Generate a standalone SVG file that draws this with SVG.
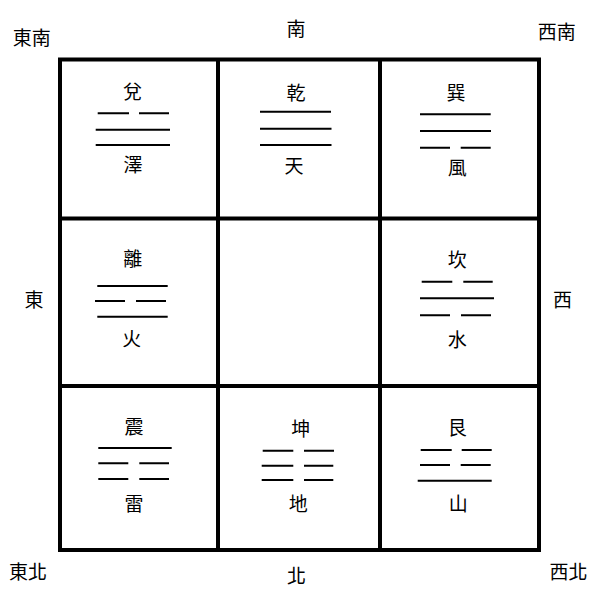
<svg xmlns="http://www.w3.org/2000/svg" width="607" height="599" viewBox="0 0 607 599">
<style>
text{font-family:"Noto Sans CJK TC","Noto Sans CJK JP",sans-serif;font-size:19px;fill:#000;text-anchor:middle;dominant-baseline:central}
.grid{fill:none;stroke:#000;stroke-width:4}
.yao{stroke:#000;stroke-width:2;fill:none}
</style>
<rect width="607" height="599" fill="#fff"/>
<g id="grid">
<rect class="grid" x="60" y="59.5" width="479" height="490.5"/>
<line class="grid" x1="218" y1="59.5" x2="218" y2="550"/>
<line class="grid" x1="380" y1="59.5" x2="380" y2="550"/>
<line class="grid" x1="60" y1="218.5" x2="539" y2="218.5"/>
<line class="grid" x1="60" y1="386" x2="539" y2="386"/>
</g>
<g id="directions">
<text x="31.7" y="36">東南</text>
<text x="296" y="27">南</text>
<text x="556.8" y="30.3">西南</text>
<text x="34" y="298">東</text>
<text x="562.6" y="298.5">西</text>
<text x="28" y="570">東北</text>
<text x="296.5" y="574.5">北</text>
<text x="568.4" y="570">西北</text>
</g>
<g id="dui">
<text x="132.5" y="90.2">兌</text>
<path class="yao" d="M97.7 113.3H129M139 113.3H169M95.7 129.7H170M95.7 145H170"/>
<text x="133" y="163.7">澤</text>
</g>
<g id="qian">
<text x="296" y="91">乾</text>
<path class="yao" d="M260 111.7H331M260 128.7H331.5M260 145H331.5"/>
<text x="294" y="164.3">天</text>
</g>
<g id="xun">
<text x="456" y="91">巽</text>
<path class="yao" d="M420 114.3H490.7M420 131H491M420 147.7H450M460.7 147.7H490.7"/>
<text x="457.3" y="166">風</text>
</g>
<g id="li">
<text x="132.7" y="257.3">離</text>
<path class="yao" d="M97.3 286H167.7M95 301H125M136 301H166M97.3 316.7H167.7"/>
<text x="131.7" y="337">火</text>
</g>
<g id="kan">
<text x="457.3" y="258.2">坎</text>
<path class="yao" d="M421.7 281.7H452.3M463.3 281.7H492.7M420 298.3H494M420 315.3H450M461 315.3H491"/>
<text x="457.3" y="338">水</text>
</g>
<g id="zhen">
<text x="134" y="425.5">震</text>
<path class="yao" d="M98.3 448H171.7M98.3 463.3H128.3M139.3 463.3H169M98.3 479H128.3M139.3 479H169"/>
<text x="134" y="502.3">雷</text>
</g>
<g id="kun">
<text x="300.7" y="427.3">坤</text>
<path class="yao" d="M262.7 450.7H293.3M304 450.7H334M261.7 465.7H293.3M304 465.7H333.3M261.7 480H293.3M304 480H333.3"/>
<text x="298.3" y="502.3">地</text>
</g>
<g id="gen">
<text x="457.3" y="426.7">艮</text>
<path class="yao" d="M420.7 450H451.7M461.7 450H491.7M420 465H450M460.7 465H490.7M417.7 480.7H491.7"/>
<text x="458.3" y="502.3">山</text>
</g>
</svg>
